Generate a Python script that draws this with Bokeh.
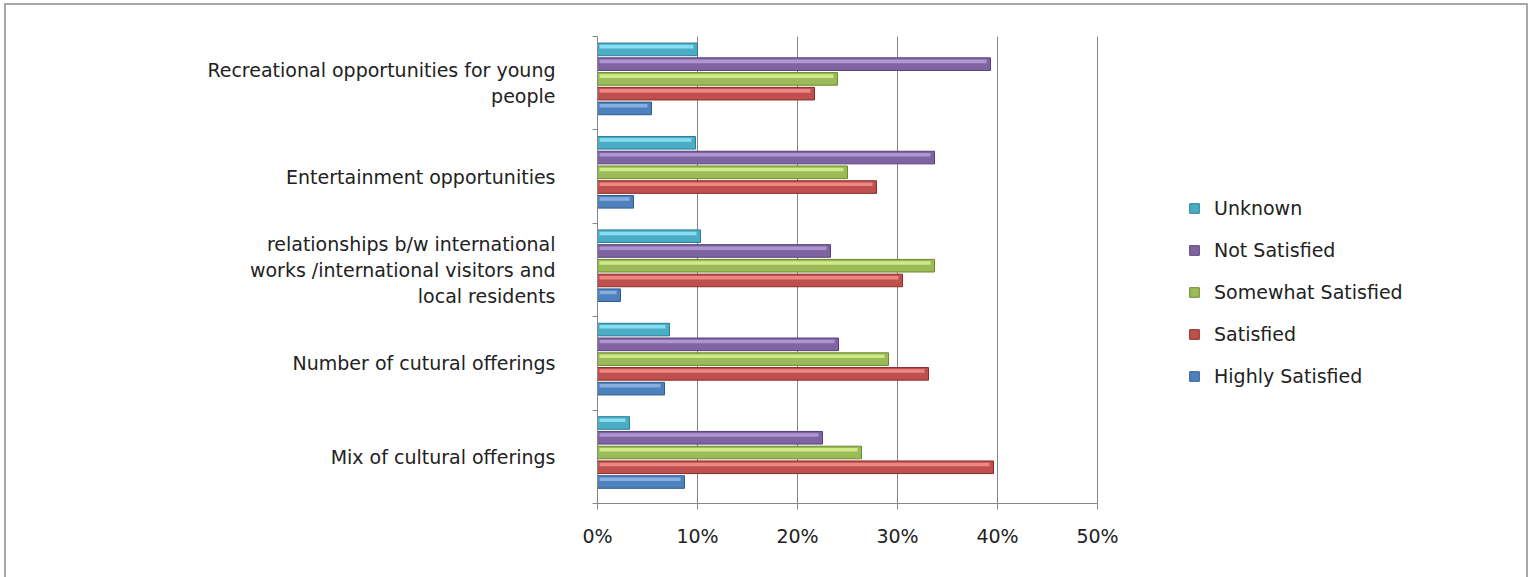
from bokeh.plotting import figure
from bokeh.models import (Range1d, FixedTicker, Legend, LegendItem, ColumnDataSource, InlineStyleSheet)
from bokeh.embed import file_html
from bokeh.resources import INLINE

# ---- data ----
categories = [
    "Mix of cultural offerings",
    "Number of cutural offerings",
    "relationships b/w international\nworks /international visitors and\nlocal residents",
    "Entertainment opportunities",
    "Recreational opportunities for young\npeople",
]
series_names = ["Highly Satisfied", "Satisfied", "Somewhat Satisfied", "Not Satisfied", "Unknown"]
highly_satisfied = [8.7, 6.7, 2.3, 3.6, 5.4]
satisfied = [39.6, 33.1, 30.5, 27.9, 21.7]
somewhat_satisfied = [26.4, 29.1, 33.7, 25.0, 24.0]
not_satisfied = [22.5, 24.1, 23.3, 33.7, 39.3]
unknown = [3.2, 7.2, 10.3, 9.8, 10.0]
x_ticks = [0, 10, 20, 30, 40, 50]
x_tick_labels = ["0%", "10%", "20%", "30%", "40%", "50%"]

series_values = [highly_satisfied, satisfied, somewhat_satisfied, not_satisfied, unknown]
colors = ["#4F81BD", "#C0504D", "#9BBB59", "#8064A2", "#4BACC6"]
hi_colors = ["#8FB4E3", "#F08E8A", "#D7EE8E", "#B49BD6", "#8EE2F5"]
dark_colors = ["#2C5A8E", "#8B2A27", "#6A8A2C", "#55407A", "#2A7F96"]

FONT = "DejaVu Sans"
GRAY = "#868686"
TXT = "#222222"

# frame spans the legend area too; axis/grid limited to 0-50 with bounds
p = figure(width=1531, height=577, output_backend="svg", toolbar_location=None,
           x_range=Range1d(0, 92.4), y_range=Range1d(0, 5),
           min_border_left=597, min_border_right=10, min_border_top=36, min_border_bottom=74)
p.outline_line_color = None
p.background_fill_color = "white"
p.border_fill_color = "white"
p.stylesheets = [InlineStyleSheet(css="""
:host { position: relative; }
:host::after {
  content: ""; position: absolute; left: 4px; top: 3px; width: 1524px; height: 600px;
  border: 2px solid #a8a8a8; pointer-events: none; z-index: 1000; box-sizing: border-box;
}
""")]

offsets = [0.23 + k * 0.158 for k in range(5)]
bar_h = 0.135
renderers = []
for k, (name, vals) in enumerate(zip(series_names, series_values)):
    ys = [i + offsets[k] for i in range(len(categories))]
    src = ColumnDataSource(dict(y=ys, right=vals))
    r = p.hbar(y="y", right="right", left=0, height=bar_h, source=src,
               fill_color=colors[k], line_color=dark_colors[k], line_width=1)
    # glossy highlight strip
    src2 = ColumnDataSource(dict(y=[v + bar_h * 0.22 for v in ys],
                                 right=[max(v - 0.4, 0) for v in vals]))
    p.hbar(y="y", right="right", left=0.2, height=bar_h * 0.28, source=src2,
           fill_color=hi_colors[k], line_color=None, fill_alpha=0.9)
    renderers.append(r)

# x axis
p.xaxis.ticker = FixedTicker(ticks=x_ticks)
p.xaxis.bounds = (0, 50)
p.xaxis.major_label_overrides = {t: l for t, l in zip(x_ticks, x_tick_labels)}
p.xaxis.axis_line_color = GRAY
p.xaxis.major_tick_line_color = GRAY
p.xaxis.major_tick_out = 6
p.xaxis.major_tick_in = 0
p.xaxis.minor_tick_line_color = None
p.xaxis.major_label_text_font = FONT
p.xaxis.major_label_text_font_size = "19px"
p.xaxis.major_label_text_color = TXT
p.xaxis.major_label_standoff = 15

# y axis
centers = [i + 0.5 for i in range(len(categories))]
p.yaxis.ticker = FixedTicker(ticks=centers, minor_ticks=list(range(len(categories) + 1)))
p.yaxis.major_label_overrides = {c: l for c, l in zip(centers, categories)}
p.yaxis.axis_line_color = GRAY
p.yaxis.major_tick_line_color = None
p.yaxis.major_tick_out = 0
p.yaxis.major_tick_in = 0
p.yaxis.minor_tick_line_color = GRAY
p.yaxis.minor_tick_out = 5
p.yaxis.minor_tick_in = 0
p.yaxis.major_label_text_font = FONT
p.yaxis.major_label_text_font_size = "19px"
p.yaxis.major_label_text_color = TXT
p.yaxis.major_label_standoff = 37

p.xgrid.ticker = FixedTicker(ticks=x_ticks)
p.xgrid.bounds = (0, 50)
p.xgrid.grid_line_color = GRAY
p.ygrid.grid_line_color = None

items = [LegendItem(label=series_names[k], renderers=[renderers[k]]) for k in range(4, -1, -1)]
legend = Legend(items=items, location=(591, 116), orientation="vertical",
                glyph_width=12, glyph_height=12, label_height=12, spacing=20,
                label_standoff=14, padding=0, margin=0,
                border_line_color=None, background_fill_alpha=0,
                label_text_font=FONT, label_text_font_size="19px", label_text_color=TXT)
p.add_layout(legend, "center")

open("out.html", "w").write(file_html(p, INLINE))
